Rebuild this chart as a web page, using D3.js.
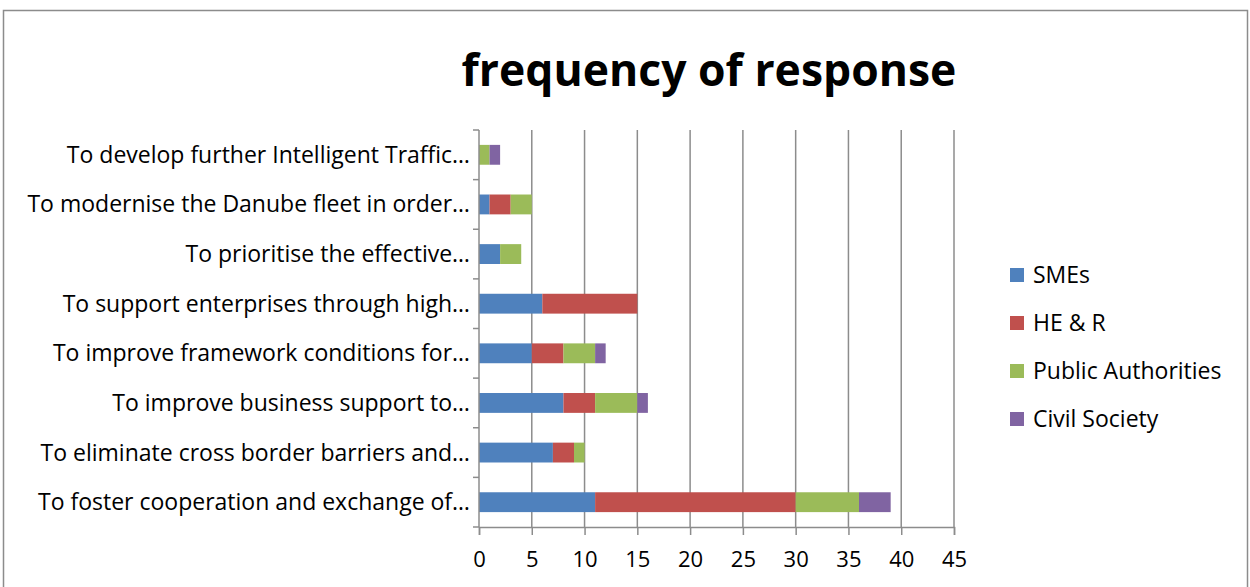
<!DOCTYPE html>
<html>
<head>
<meta charset="utf-8">
<script src="https://cdn.jsdelivr.net/npm/d3@7"></script>
<style>
  body { margin: 0; background: #fff; }
  text { font-family: "Open Sans", "Liberation Sans", sans-serif; }
</style>
</head>
<body>
<div id="chart"></div>
<script>
// categories, bottom to top as in the picture
var categories = [
  "To foster cooperation and exchange of…",
  "To eliminate cross border barriers and…",
  "To improve business support to…",
  "To improve framework conditions for…",
  "To support enterprises through high…",
  "To prioritise the effective…",
  "To modernise the Danube fleet in order…",
  "To develop further Intelligent Traffic…"
];
var seriesNames = ["SMEs", "HE & R", "Public Authorities", "Civil Society"];
var smes      = [11, 7, 8, 5, 6, 2, 1, 0];
var heR       = [19, 2, 3, 3, 9, 0, 2, 0];
var publicAuth = [6, 1, 4, 3, 0, 2, 2, 1];
var civil     = [3, 0, 1, 1, 0, 0, 0, 1];
var xTicks = [0, 5, 10, 15, 20, 25, 30, 35, 40, 45];
var colors = ["#4f81bd", "#c0504d", "#9bbb59", "#8064a2"];

var W = 1250, H = 587;
var margin = {top: 130, left: 479, right: 296, bottom: 60};
var width = W - margin.left - margin.right,
    height = H - margin.top - margin.bottom;

var svg = d3.select("#chart").append("svg")
    .attr("width", W)
    .attr("height", H);

// outer frame
svg.append("rect")
    .attr("x", 3.5).attr("y", 10.5)
    .attr("width", 1244).attr("height", 600)
    .attr("fill", "none")
    .attr("stroke", "#8c8c8c")
    .attr("stroke-width", 1.5);

// title
svg.append("text")
    .attr("x", 709).attr("y", 86)
    .attr("text-anchor", "middle")
    .style("font-size", "44.5px")
    .style("font-weight", "bold")
    .text("frequency of response");

var g = svg.append("g")
    .attr("transform", "translate(" + margin.left + "," + margin.top + ")");

var x = d3.scaleLinear().domain([0, 45]).range([0, width]);
var y = d3.scaleBand().domain(categories).range([height, 0]).paddingInner(0.6).paddingOuter(0.3);
var yBand = d3.scaleBand().domain(categories).range([height, 0]);

// gridlines
g.selectAll(".grid").data(xTicks.slice(1))
  .enter().append("line")
    .attr("x1", function(d) { return x(d); })
    .attr("x2", function(d) { return x(d); })
    .attr("y1", 0).attr("y2", height)
    .attr("stroke", "#8c8c8c")
    .attr("stroke-width", 1.5);

// stacked bars
var rows = categories.map(function(c, i) {
  return {cat: c, s0: smes[i], s1: heR[i], s2: publicAuth[i], s3: civil[i]};
});
var stack = d3.stack().keys(["s0", "s1", "s2", "s3"]);
var layers = stack(rows);

g.selectAll(".layer").data(layers)
  .enter().append("g")
    .attr("fill", function(d, i) { return colors[i]; })
  .selectAll("rect").data(function(d) { return d; })
  .enter().append("rect")
    .attr("x", function(d) { return x(d[0]); })
    .attr("y", function(d) { return y(d.data.cat); })
    .attr("width", function(d) { return x(d[1]) - x(d[0]); })
    .attr("height", y.bandwidth());

// x axis
var xAxis = g.append("g")
    .attr("transform", "translate(0," + height + ")")
    .call(d3.axisBottom(x).tickValues(xTicks).tickSize(8).tickPadding(16));
xAxis.select(".domain").attr("stroke", "#8c8c8c").attr("stroke-width", 1.5);
xAxis.selectAll(".tick line").attr("stroke", "#8c8c8c").attr("stroke-width", 1.5);
xAxis.selectAll("text").style("font-size", "22px").attr("fill", "#000")
    .style("font-family", "'Open Sans', sans-serif");

// y axis: labels centered on bands, ticks at band boundaries
var yAxis = g.append("g");
yAxis.append("line")
    .attr("x1", 0).attr("x2", 0).attr("y1", 0).attr("y2", height)
    .attr("stroke", "#8c8c8c").attr("stroke-width", 1.5);
var bounds = categories.map(function(c) { return yBand(c); }).concat([height]);
yAxis.selectAll(".yt").data(bounds)
  .enter().append("line")
    .attr("x1", -6).attr("x2", 0)
    .attr("y1", function(d) { return d; })
    .attr("y2", function(d) { return d; })
    .attr("stroke", "#8c8c8c").attr("stroke-width", 1.5);
yAxis.selectAll(".ylab").data(categories)
  .enter().append("text")
    .attr("x", -9)
    .attr("y", function(d) { return yBand(d) + yBand.bandwidth() / 2; })
    .attr("dy", "0.35em")
    .attr("text-anchor", "end")
    .style("font-size", "23px")
    .text(function(d) { return d; });

// legend
var legend = svg.append("g").attr("transform", "translate(1010,275)");
var li = legend.selectAll("g").data(seriesNames)
  .enter().append("g")
    .attr("transform", function(d, i) { return "translate(0," + (i * 48) + ")"; });
li.append("rect")
    .attr("x", 0).attr("y", -7)
    .attr("width", 14).attr("height", 14)
    .attr("fill", function(d, i) { return colors[i]; });
li.append("text")
    .attr("x", 23).attr("dy", "0.35em")
    .style("font-size", "23px")
    .text(function(d) { return d; });
</script>
</body>
</html>
